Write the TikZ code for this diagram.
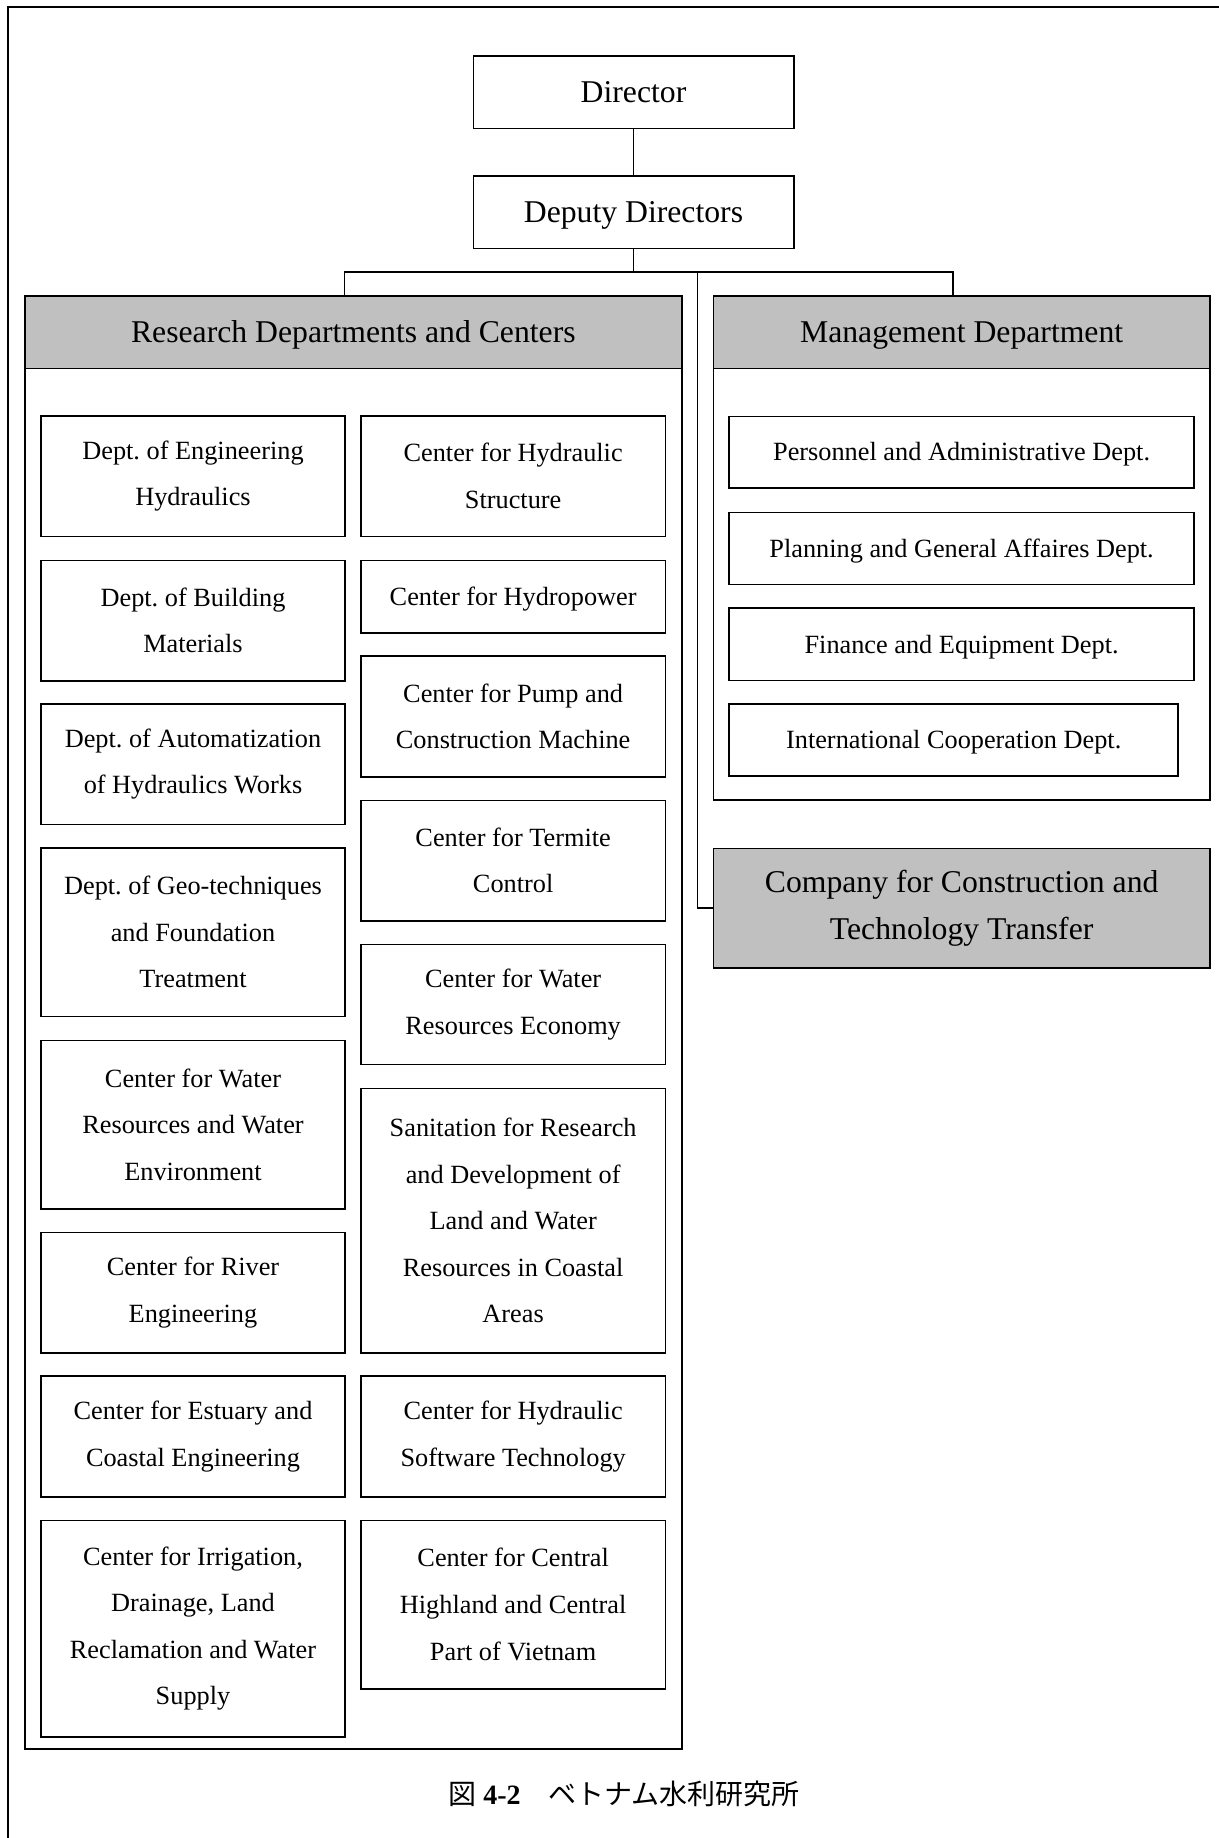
\documentclass[tikz,border=0pt]{standalone}
\usepackage{fontspec}
\setmainfont{Liberation Serif}
\newfontfamily\jpfont{Noto Sans CJK JP}
\definecolor{headgray}{RGB}{192,192,192}
\frenchspacing
\begin{document}
\begin{tikzpicture}[x=0.5pt,y=-0.5pt,
  % span={x1}{y1}{x2}{y2}: box between two corners, given in picture units
  span/.style n args={4}{minimum width={(#3-#1)*0.5pt}, minimum height={(#4-#2)*0.5pt},
    at={({(#1+#3)/2},{(#2+#4)/2})}},
  unitbox/.style={draw, line width=0.8pt, inner sep=0pt, align=center, anchor=center,
    font=\fontsize{13.15}{23.3}\selectfont},
  headbox/.style={draw, line width=0.8pt, inner sep=0pt, align=center, anchor=center,
    fill=headgray, font=\fontsize{15.85}{23.4}\selectfont},
  chiefbox/.style={draw, line width=0.8pt, inner sep=0pt, align=center, anchor=center,
    font=\fontsize{15.85}{23.4}\selectfont},
  % single-line labels: same vertical placement with or without descenders
  onebig/.style={text height=10.5pt, text depth=0pt},
  onesmall/.style={text height=8.7pt, text depth=0pt},
  groupbox/.style={draw, line width=0.8pt, inner sep=0pt, anchor=center},
  link/.style={line width=0.8pt}]
\useasboundingbox (0,0) rectangle (1219,1838);

% page frame
\draw[line width=1pt] (8,1838) -- (8,7) -- (1219,7);

% top management
\node[chiefbox, onebig, span={473.3}{56}{793.7}{128.3}] (dir) {Director};
\node[chiefbox, onebig, span={473.3}{176}{793.7}{248.3}] (dep) {Deputy Directors};

% research group
\node[groupbox, span={25}{295.7}{681.7}{1749}] (rsch) {};
\node[headbox, onebig, span={25}{295.7}{681.7}{368.3}] (rhd) {Research Departments and Centers};

% left column
\node[unitbox, span={41}{416}{345}{536.3}] (l1) {Dept. of Engineering\\Hydraulics};
\node[unitbox, span={41}{560.3}{345}{680.7}] (l2) {Dept. of Building\\Materials};
\node[unitbox, span={41}{704}{345}{824.3}] (l3) {Dept. of Automatization\\of Hydraulics Works};
\node[unitbox, span={41}{848}{345}{1016.3}] (l4) {Dept. of Geo-techniques\\and Foundation\\Treatment};
\node[unitbox, span={41}{1040.3}{345}{1208.7}] (l5) {Center for Water\\Resources and Water\\Environment};
\node[unitbox, span={41}{1232.3}{345}{1352.7}] (l6) {Center for River\\Engineering};
\node[unitbox, span={41}{1376}{345}{1496.7}] (l7) {Center for Estuary and\\Coastal Engineering};
\node[unitbox, span={41}{1520.3}{345}{1737}] (l8) {Center for Irrigation,\\Drainage, Land\\Reclamation and Water\\Supply};

% right column
\node[unitbox, span={360.7}{416}{665.6}{536.3}] (r1) {Center for Hydraulic\\Structure};
\node[unitbox, onesmall, span={360.7}{560.3}{665.6}{632.7}] (r2) {Center for Hydropower};
\node[unitbox, span={360.7}{656}{665.6}{776.7}] (r3) {Center for Pump and\\Construction Machine};
\node[unitbox, span={360.7}{800.3}{665.6}{920.7}] (r4) {Center for Termite\\Control};
\node[unitbox, span={360.7}{944.3}{665.6}{1064.3}] (r5) {Center for Water\\Resources Economy};
\node[unitbox, span={360.7}{1088.3}{665.6}{1352.7}] (r6) {Sanitation for Research\\and Development of\\Land and Water\\Resources in Coastal\\Areas};
\node[unitbox, span={360.7}{1376}{665.6}{1496.7}] (r7) {Center for Hydraulic\\Software Technology};
\node[unitbox, span={360.7}{1520.3}{665.6}{1688.7}] (r8) {Center for Central\\Highland and Central\\Part of Vietnam};

% management group
\node[groupbox, span={713.3}{295.7}{1210}{800}] (mgmt) {};
\node[headbox, onebig, span={713.3}{295.7}{1210}{368.3}] (mhd) {Management Department};
\node[unitbox, onesmall, span={729.2}{416.4}{1194}{488}] (m1) {Personnel and Administrative Dept.};
\node[unitbox, onesmall, span={729.2}{512.5}{1194}{584.4}] (m2) {Planning and General Affaires Dept.};
\node[unitbox, onesmall, span={729.2}{608.1}{1194}{680.5}] (m3) {Finance and Equipment Dept.};
\node[unitbox, onesmall, span={729.2}{704.2}{1178.2}{776.2}] (m4) {International Cooperation Dept.};

% company
\node[headbox, span={713.3}{848.5}{1210}{968}] (co) {Company for Construction and\\Technology Transfer};

% connectors
\coordinate (bar) at (633.5,272);
\coordinate (jr) at (344.4,272);
\coordinate (jm) at (953.1,272);
\coordinate (jc) at (697.3,272);
\draw[link] (dir.south) -- (dep.north);
\draw[link] (dep.south) -- (bar);
\draw[link] (jr |- rhd.north) -- (jr) -- (jm) -- (jm |- mhd.north);
\draw[link] (jc) |- (co.west);

% caption
\node[font=\fontsize{14}{16}\selectfont] (cap) at (624,1794)
  {{\jpfont 図} \textbf{4-2}{\jpfont 　ベトナム水利研究所}};
\end{tikzpicture}
\end{document}
